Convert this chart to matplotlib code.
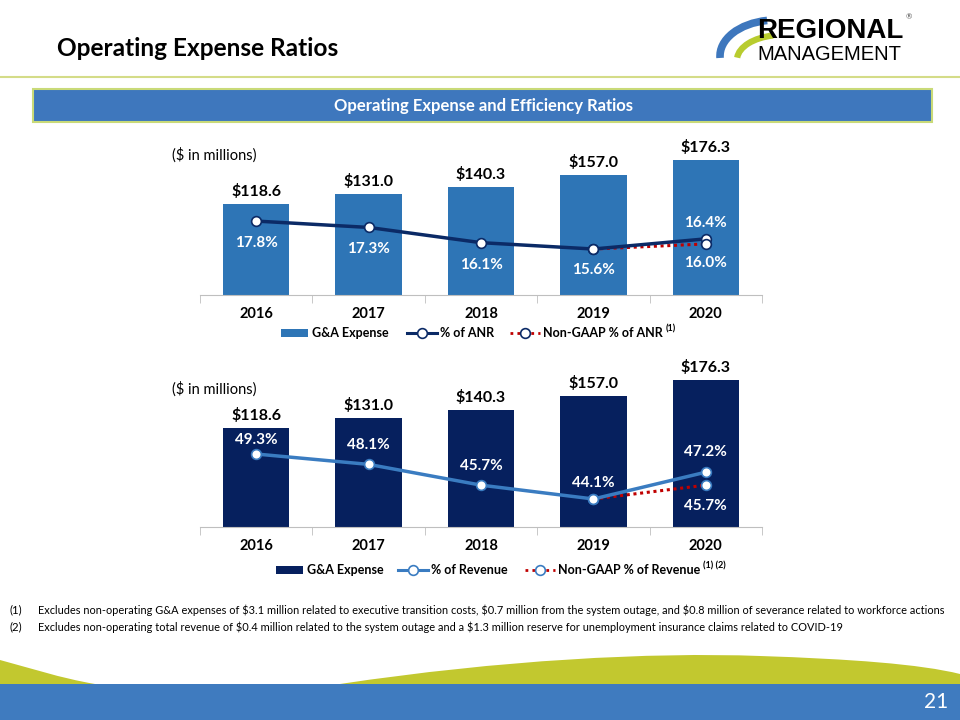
import matplotlib.pyplot as plt
from matplotlib.patches import Rectangle, Arc, PathPatch
from matplotlib.path import Path
import numpy as np

plt.rcParams['font.family'] = ['Lato', 'DejaVu Sans']

# data
years = ['2016', '2017', '2018', '2019', '2020']
ga_expense = [118.6, 131.0, 140.3, 157.0, 176.3]
pct_anr = [17.8, 17.3, 16.1, 15.6, 16.4]
nongaap_anr = [15.6, 16.0]          # 2019, 2020
pct_revenue = [49.3, 48.1, 45.7, 44.1, 47.2]
nongaap_revenue = [44.1, 45.7]      # 2019, 2020

footnote_1 = ('Excludes non-operating G&A expenses of $3.1 million related to executive transition costs, '
              '$0.7 million from the system outage, and $0.8 million of severance related to workforce actions')
footnote_2 = ('Excludes non-operating total revenue of $0.4 million related to the system outage and a '
              '$1.3 million reserve for unemployment insurance claims related to COVID-19')

# label offsets in pixels (pct series, then non-GAAP 2020 point)
offs_top = [-22, -22, -22, -21, 16]
offs_top_ng = -19
offs_bot = [14, 19, 19, 16, 20]
offs_bot_ng = -21

W, H = 960, 720
ARIAL = ['Liberation Sans', 'DejaVu Sans']

fig = plt.figure(figsize=(9.6, 7.2), dpi=100)
bg = fig.add_axes([0, 0, 1, 1])
bg.set_xlim(0, W)
bg.set_ylim(H, 0)
bg.axis('off')

# header
bg.text(57, 48, 'Operating Expense Ratios', fontsize=17.6, fontweight='bold', va='center')
bg.plot([0, W], [77, 77], color='#D4DC88', lw=1.5)
bg.add_patch(Rectangle((33, 89), 899, 33, facecolor='#3E77BD', edgecolor='#C9DA78', lw=1.5))
bg.text(483, 105.5, 'Operating Expense and Efficiency Ratios', color='white', fontsize=12,
        fontweight='bold', ha='center', va='center')

# logo
bg.add_patch(Arc((776, 56), 112, 72, theta1=178, theta2=256, color='#3E77BD', lw=5.5))
bg.add_patch(Arc((782, 60), 90, 50, theta1=183, theta2=250, color='#B8CC2E', lw=4.5))
bg.text(757, 31, 'REGIONAL', family=ARIAL, fontweight='bold', fontsize=20, va='center')
bg.text(757, 54.5, 'MANAGEMENT', family=ARIAL, fontsize=14.5, va='center')
bg.text(906, 17, '®', fontsize=5.5, color='#555555', va='center')

# bottom wave and band
left = Path([(0, 684), (0, 660), (30, 668), (60, 678), (95, 684), (0, 684)],
            [Path.MOVETO, Path.LINETO, Path.CURVE4, Path.CURVE4, Path.CURVE4, Path.CLOSEPOLY])
right = Path([(340, 684), (500, 660), (650, 652), (760, 656), (850, 659), (920, 664), (960, 674),
              (960, 684), (340, 684)],
             [Path.MOVETO, Path.CURVE4, Path.CURVE4, Path.CURVE4, Path.CURVE4, Path.CURVE4,
              Path.CURVE4, Path.LINETO, Path.CLOSEPOLY])
for p in (left, right):
    bg.add_patch(PathPatch(p, facecolor='#C2C82F', edgecolor='none'))
bg.add_patch(Rectangle((0, 684), W, 36, facecolor='#3F7BBF', edgecolor='none'))
bg.text(948, 702, '21', color='white', fontsize=15, ha='right', va='center')

# footnotes
bg.text(10, 610, '(1)', fontsize=8.2, va='center')
bg.text(38, 610, footnote_1, fontsize=7.95, va='center', parse_math=False)
bg.text(10, 627, '(2)', fontsize=8.2, va='center')
bg.text(38, 627, footnote_2, fontsize=7.95, va='center', parse_math=False)


def chart(top, bottom, ymax, y2lim, bar_color, line_color, pct, nongaap, offs, off_ng):
    ax = fig.add_axes([200 / W, 1 - bottom / H, 562 / W, (bottom - top) / H])
    ax.set_facecolor('none')
    x = np.arange(len(years))
    bars = ax.bar(x, ga_expense, width=0.59, color=bar_color, zorder=2)
    ax.set_xlim(-0.5, 4.5)
    ax.set_ylim(0, ymax)
    for rect, v in zip(bars, ga_expense):
        ax.annotate(f'${v:.1f}', (rect.get_x() + rect.get_width() / 2, v), xytext=(0, 5),
                    textcoords='offset pixels', ha='center', va='bottom', fontsize=11.5,
                    fontweight='bold', parse_math=False)
    for s in ['top', 'left', 'right']:
        ax.spines[s].set_visible(False)
    ax.spines['bottom'].set_color('#BFBFBF')
    ax.set_yticks([])
    ax.set_xticks(x, years, fontsize=10.5, fontweight='bold')
    ax.set_xticks(np.arange(-0.5, 5, 1), minor=True)
    ax.tick_params(axis='x', which='major', length=0, pad=9)
    ax.tick_params(axis='x', which='minor', length=6, color='#BFBFBF')

    ax2 = ax.twinx()
    ax2.set_ylim(*y2lim)
    ax2.axis('off')
    xn = x[len(x) - len(nongaap):]
    ax2.plot(xn, nongaap, color='#C00000', ls=(0, (1, 1.2)), lw=2.2, zorder=2)
    ax2.plot(x, pct, color=line_color, lw=2.5, zorder=3)
    ax2.plot(x, pct, ls='none', marker='o', ms=7, mfc='white', mec=line_color, mew=1.2, zorder=4)
    ax2.plot(xn, nongaap, ls='none', marker='o', ms=7, mfc='white', mec=line_color, mew=1.2, zorder=4)
    for xi, v, o in zip(x, pct, offs):
        ax2.annotate(f'{v:.1f}%', (xi, v), xytext=(0, o), textcoords='offset pixels', ha='center',
                     va='center', color='white', fontsize=11, fontweight='bold', zorder=5)
    ax2.annotate(f'{nongaap[-1]:.1f}%', (xn[-1], nongaap[-1]), xytext=(0, off_ng),
                 textcoords='offset pixels', ha='center', va='center', color='white', fontsize=11,
                 fontweight='bold', zorder=5)
    return ax


chart(130, 295, 215, (11.98, 24.97), '#2E75B6', '#0B2A66', pct_anr, nongaap_anr, offs_top, offs_top_ng)
chart(360, 527, 200, (40.86, 60.17), '#06205E', '#3A7CC1', pct_revenue, nongaap_revenue, offs_bot, offs_bot_ng)

bg.text(172, 155, '($ in millions)', fontsize=10.5, va='center', parse_math=False)
bg.text(172, 389, '($ in millions)', fontsize=10.5, va='center', parse_math=False)

# legends
renderer = fig.canvas.get_renderer()


def legend(y, x_patch, patch_color, x_line, line_color, line_label, x_ng, ng_label, sup):
    bg.add_patch(Rectangle((x_patch, y - 4), 27, 8, facecolor=patch_color, edgecolor='none'))
    bg.text(x_patch + 31, y, 'G&A Expense', fontsize=9, fontweight='bold', va='center')
    bg.plot([x_line, x_line + 30], [y, y], color=line_color, lw=2.2)
    bg.plot([x_line + 15], [y], marker='o', ms=7, mfc='white', mec=line_color, mew=1.2)
    bg.text(x_line + 33, y, line_label, fontsize=9, fontweight='bold', va='center')
    bg.plot([x_ng, x_ng + 30], [y, y], color='#C00000', ls=(0, (1, 1.5)), lw=2)
    bg.plot([x_ng + 15], [y], marker='o', ms=7, mfc='white', mec=line_color, mew=1.2)
    t = bg.text(x_ng + 33, y, ng_label, fontsize=9, fontweight='bold', va='center')
    bb = t.get_window_extent(renderer)
    xe = bg.transData.inverted().transform((bb.x1, bb.y1))[0]
    bg.text(xe + 3, y - 4, sup, fontsize=6.5, fontweight='bold', va='center')


legend(333, 281, '#2E75B6', 407, '#0B2A66', '% of ANR', 510, 'Non-GAAP % of ANR', '(1)')
legend(570, 276, '#06205E', 398, '#3A7CC1', '% of Revenue', 525, 'Non-GAAP % of Revenue', '(1) (2)')

fig.savefig('out.png', dpi=100)
